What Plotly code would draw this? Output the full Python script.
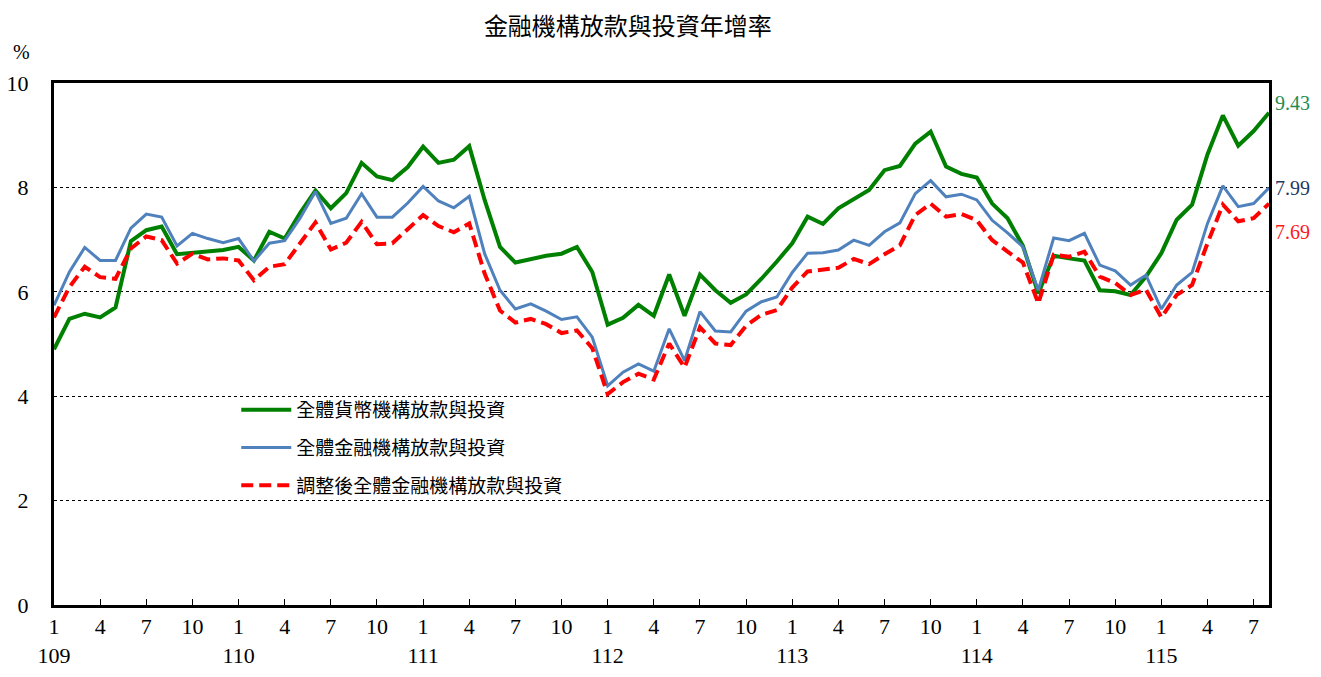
import plotly.graph_objects as go

# months 109/1 .. 115/8 (ROC calendar), one value per month
years = list(range(109, 116))
n_months = 80

monetary = [
    4.90, 5.48, 5.58, 5.51, 5.70, 6.97, 7.18, 7.25, 6.72, 6.75, 6.77, 6.80,
    6.86, 6.60, 7.15, 7.02, 7.51, 7.94, 7.60, 7.89, 8.47, 8.21, 8.14, 8.39,
    8.78, 8.47, 8.53, 8.79, 7.76, 6.86, 6.56, 6.62, 6.69, 6.73, 6.86, 6.38,
    5.37, 5.50, 5.75, 5.54, 6.33, 5.54, 6.33, 6.03, 5.79, 5.95, 6.25, 6.58,
    6.93, 7.44, 7.30, 7.60, 7.77, 7.95, 8.33, 8.41, 8.84, 9.07, 8.40, 8.26,
    8.19, 7.69, 7.41, 6.88, 5.97, 6.69, 6.64, 6.60, 6.03, 6.01, 5.94, 6.29,
    6.74, 7.38, 7.67, 8.63, 9.38, 8.80, 9.08, 9.43,
]
financial = [
    5.74, 6.38, 6.85, 6.60, 6.60, 7.22, 7.49, 7.43, 6.88, 7.12, 7.02, 6.94,
    7.02, 6.59, 6.93, 6.98, 7.41, 7.92, 7.31, 7.41, 7.88, 7.43, 7.43, 7.70,
    8.02, 7.74, 7.61, 7.83, 6.73, 6.03, 5.67, 5.77, 5.63, 5.47, 5.52, 5.13,
    4.20, 4.46, 4.62, 4.48, 5.29, 4.68, 5.62, 5.25, 5.23, 5.63, 5.81, 5.90,
    6.37, 6.74, 6.75, 6.80, 6.99, 6.89, 7.15, 7.32, 7.88, 8.13, 7.82, 7.87,
    7.76, 7.37, 7.13, 6.86, 6.03, 7.03, 6.98, 7.12, 6.51, 6.40, 6.13, 6.32,
    5.67, 6.13, 6.37, 7.31, 8.03, 7.63, 7.69, 7.99,
]
adjusted = [
    5.51, 6.09, 6.48, 6.28, 6.25, 6.83, 7.06, 6.99, 6.54, 6.73, 6.62, 6.64,
    6.60, 6.22, 6.48, 6.53, 6.93, 7.33, 6.81, 6.94, 7.34, 6.91, 6.93, 7.20,
    7.47, 7.26, 7.14, 7.31, 6.35, 5.64, 5.41, 5.48, 5.38, 5.21, 5.26, 4.92,
    4.04, 4.27, 4.43, 4.32, 5.01, 4.55, 5.32, 5.01, 4.98, 5.35, 5.56, 5.65,
    6.08, 6.39, 6.43, 6.46, 6.63, 6.53, 6.72, 6.89, 7.47, 7.69, 7.44, 7.49,
    7.37, 6.99, 6.77, 6.56, 5.78, 6.71, 6.67, 6.77, 6.29, 6.17, 5.94, 6.04,
    5.51, 5.94, 6.13, 6.93, 7.67, 7.35, 7.41, 7.69,
]

names = ["全體貨幣機構放款與投資", "全體金融機構放款與投資", "調整後全體金融機構放款與投資"]

x = list(range(n_months))
tickvals = list(range(0, n_months, 3))
ticktext = []
for t in tickvals:
    m = t % 12 + 1
    if m == 1:
        ticktext.append(f"{m}<br>{years[t // 12]}")
    else:
        ticktext.append(str(m))

serif = "Liberation Serif, Times New Roman, serif"
cjk = "Noto Sans CJK TC"

fig = go.Figure()
fig.add_trace(go.Scatter(x=x, y=monetary, mode="lines", name=names[0], legendgroup="a",
                         line=dict(color="#008000", width=4)))
fig.add_trace(go.Scatter(x=x, y=financial, mode="lines", name=names[1], legendgroup="b",
                         line=dict(color="#4f81bd", width=3)))
fig.add_trace(go.Scatter(x=x, y=adjusted, mode="lines", name=names[2], legendgroup="c",
                         line=dict(color="#ff0000", width=4, dash="12px,6px")))

# end-of-series value labels
end_labels = [
    (monetary[-1], "#1e8c50", 10),
    (financial[-1], "#1f3864", 0),
    (adjusted[-1], "#ff1a1a", -28),
]
for val, col, shift in end_labels:
    fig.add_annotation(xref="paper", x=1.003, y=val, yref="y", text=f"{val:.2f}",
                       showarrow=False, xanchor="left", yshift=shift,
                       font=dict(family=serif, size=20, color=col))

fig.add_annotation(xref="paper", yref="paper", x=-0.035, y=1.035, text="%",
                   showarrow=False, xanchor="left", yanchor="bottom",
                   font=dict(family=serif, size=20, color="black"))

# page body adds an 8px margin, so the figure is a bit smaller than the window
fig.update_layout(
    width=1305, height=661,
    margin=dict(l=46, r=44, t=75, b=64),
    paper_bgcolor="white", plot_bgcolor="white",
    title=dict(text="金融機構放款與投資年增率", x=0.475, xanchor="center", y=0.984,
               yanchor="top", font=dict(family=cjk, size=24, color="black")),
    legend=dict(x=0.15, y=0.41, xanchor="left", yanchor="top",
                bgcolor="rgba(0,0,0,0)", font=dict(family=cjk, size=19, color="black"),
                tracegroupgap=10, itemwidth=50),
    showlegend=True,
)
fig.update_xaxes(
    range=[0, n_months - 1], tickvals=tickvals, ticktext=ticktext, automargin=False,
    showgrid=False, zeroline=False, showline=True, linecolor="black", linewidth=3,
    mirror=True, ticks="inside", ticklen=6, tickcolor="black",
    tickfont=dict(family=serif, size=22, color="black"),
)
fig.update_yaxes(
    range=[0, 10], dtick=2, showgrid=True, gridcolor="black", gridwidth=1,
    griddash="dot", zeroline=False, showline=True, linecolor="black", linewidth=3,
    mirror=True, ticks="", ticklabelstandoff=18, automargin=False,
    tickfont=dict(family=serif, size=22, color="black"),
)

fig.write_html("out.html")
